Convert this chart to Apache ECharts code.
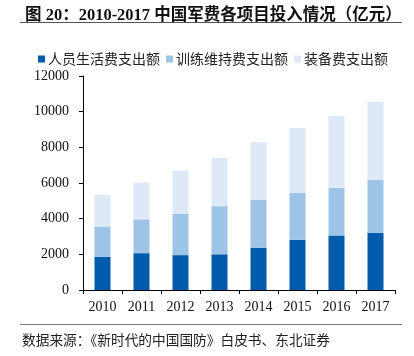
<!DOCTYPE html>
<html><head><meta charset="utf-8">
<script src="https://cdn.jsdelivr.net/npm/echarts@6/dist/echarts.min.js"></script>
<style>html,body{margin:0;padding:0;background:#fff}#c{width:414px;height:356px}</style>
</head><body><div id="c"></div>
<script>
const years = ['2010','2011','2012','2013','2014','2015','2016','2017'];
const personnel = [1859, 2065, 1956, 2002, 2372, 2819, 3061, 3211];
const training = [1700, 1899, 2330, 2699, 2680, 2616, 2669, 2951];
const equipment = [1774, 2064, 2406, 2709, 3237, 3654, 4031, 4380];
const seriesNames = ['人员生活费支出额','训练维持费支出额','装备费支出额'];
const yTicks = [0, 2000, 4000, 6000, 8000, 10000, 12000];

const serif = '"Liberation Serif","Times New Roman","Noto Sans CJK SC",serif';
const cjk = '"Noto Sans CJK SC",sans-serif';
const colors = ['#005BAC', '#9DC3E6', '#DDE9F6'];

const chart = echarts.init(document.getElementById('c'));
chart.setOption({
  animation: false,
  color: colors,
  title: {
    text: '图 20：2010-2017 中国军费各项目投入情况（亿元）',
    left: 20, top: 2,
    textStyle: {fontFamily: serif, fontSize: 16.5, fontWeight: 'bold', color: '#111'}
  },
  graphic: [
    {type: 'line', shape: {x1: 20, y1: 22.5, x2: 402, y2: 22.5}, style: {stroke: '#555', lineWidth: 1}},
    {type: 'line', shape: {x1: 20, y1: 324.5, x2: 402, y2: 324.5}, style: {stroke: '#777', lineWidth: 1}},
    {type: 'text', left: 22, top: 333, style: {text: '数据来源：《新时代的中国国防》白皮书、东北证券', font: '13.7px ' + cjk, fill: '#222'}}
  ],
  legend: {
    data: seriesNames,
    left: 33, top: 47,
    icon: 'rect', itemWidth: 7, itemHeight: 7, itemGap: 6,
    textStyle: {fontFamily: cjk, fontSize: 14, color: '#222', padding: [0,0,0,-2]}
  },
  grid: {left: 83, right: 19, top: 76, bottom: 66},
  xAxis: {
    type: 'category', data: years,
    axisLine: {lineStyle: {color: '#000', width: 1}},
    axisTick: {show: true, length: 4, lineStyle: {color: '#000'}},
    axisLabel: {fontFamily: serif, fontSize: 14, color: '#111', margin: 10}
  },
  yAxis: {
    type: 'value', min: yTicks[0], max: yTicks[yTicks.length-1], interval: 2000,
    axisLine: {show: true, lineStyle: {color: '#000', width: 1}},
    axisTick: {show: true, length: 4, lineStyle: {color: '#000'}},
    splitLine: {show: false},
    axisLabel: {fontFamily: serif, fontSize: 14, color: '#111', margin: 14, formatter: v => String(v)}
  },
  series: [
    {name: seriesNames[0], type: 'bar', stack: 't', data: personnel, barWidth: 16},
    {name: seriesNames[1], type: 'bar', stack: 't', data: training, barWidth: 16},
    {name: seriesNames[2], type: 'bar', stack: 't', data: equipment, barWidth: 16}
  ]
});
</script></body></html>
